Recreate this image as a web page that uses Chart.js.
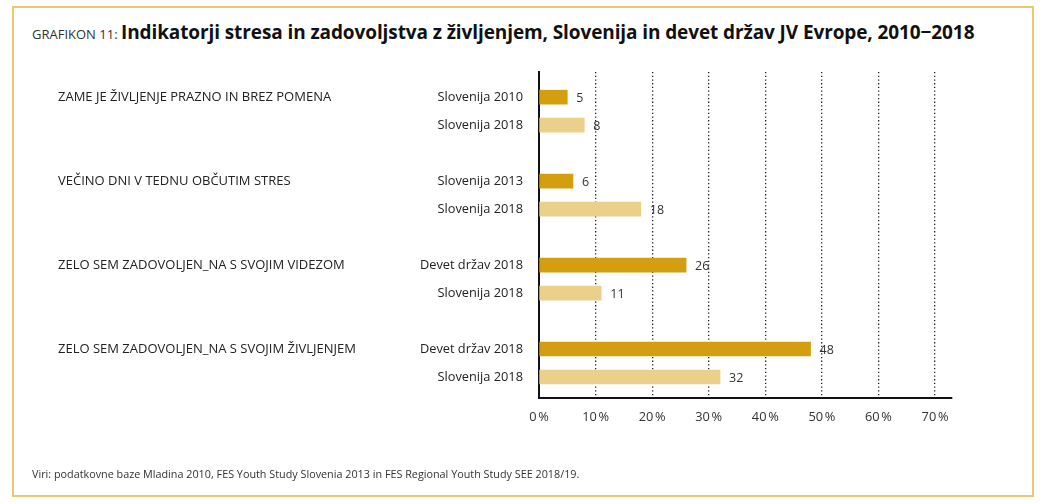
<!DOCTYPE html>
<html>
<head>
<meta charset="utf-8">
<script src="https://cdn.jsdelivr.net/npm/chart.js@4"></script>
<style>
  html, body { margin: 0; padding: 0; background: #fff; }
  body { width: 1043px; height: 504px; position: relative; overflow: hidden; font-family: "Open Sans", sans-serif; }
  .frame { position: absolute; left: 12px; top: 6px; width: 1022px; height: 491px; border: 2px solid #e8c96f; box-sizing: border-box; }
  .title { position: absolute; left: 32px; top: 19px; white-space: nowrap; color: #111; }
  .title .pre { font-size: 13px; color: #333; }
  .title .main { font-weight: 700; font-size: 19px; letter-spacing: -0.1px; }
  .source { position: absolute; left: 32px; top: 466px; font-size: 10.8px; color: #333; white-space: nowrap; }
  #chartWrap { position: absolute; left: 0; top: 0; width: 1043px; height: 504px; }
</style>
</head>
<body>
<div class="frame"></div>
<div class="title"><span class="pre">GRAFIKON 11: </span><span class="main">Indikatorji stresa in zadovoljstva z življenjem, Slovenija in devet držav JV Evrope, 2010−2018</span></div>
<div id="chartWrap"><canvas id="chart"></canvas></div>
<div class="source">Viri: podatkovne baze Mladina 2010, FES Youth Study Slovenia 2013 in FES Regional Youth Study SEE 2018/19.</div>
<script>
// podatki
const groups = [
  'ZAME JE ŽIVLJENJE PRAZNO IN BREZ POMENA',
  'VEČINO DNI V TEDNU OBČUTIM STRES',
  'ZELO SEM ZADOVOLJEN_NA S SVOJIM VIDEZOM',
  'ZELO SEM ZADOVOLJEN_NA S SVOJIM ŽIVLJENJEM'
];
const firstLabels = ['Slovenija 2010', 'Slovenija 2013', 'Devet držav 2018', 'Devet držav 2018'];
const firstValues = [5, 6, 26, 48];
const secondLabels = ['Slovenija 2018', 'Slovenija 2018', 'Slovenija 2018', 'Slovenija 2018'];
const secondValues = [8, 18, 11, 32];
const xTicks = [0, 10, 20, 30, 40, 50, 60, 70];

// each group takes three rows: first bar, second bar, empty row
const slotLabels = [];
const slotGroups = [];
const slotTicks = [];
groups.forEach((g, i) => {
  slotLabels[i * 3] = firstLabels[i];
  slotLabels[i * 3 + 1] = secondLabels[i];
  slotGroups[i * 3] = g;
  slotTicks.push(i * 3, i * 3 + 1);
});
const firstData = firstValues.map((v, i) => ({ x: v, y: i * 3 }));
const secondData = secondValues.map((v, i) => ({ x: v, y: i * 3 + 1 }));

const yMin = -0.9, yMax = 10.75;

const valueLabels = {
  id: 'valueLabels',
  afterDatasetsDraw(chart) {
    const ctx = chart.ctx;
    ctx.save();
    ctx.font = '12.5px "Open Sans", sans-serif';
    ctx.fillStyle = '#333';
    ctx.textBaseline = 'middle';
    chart.data.datasets.forEach((ds, di) => {
      chart.getDatasetMeta(di).data.forEach((bar, i) => {
        ctx.fillText(ds.data[i].x, bar.x + 9, bar.y + 1);
      });
    });
    ctx.restore();
  }
};

const labelFont = { family: 'Open Sans', size: 12.8 };

new Chart(document.getElementById('chart'), {
  type: 'bar',
  data: {
    datasets: [
      { data: firstData, backgroundColor: '#d39e10', barThickness: 14, grouped: false },
      { data: secondData, backgroundColor: '#ead08a', barThickness: 14, grouped: false }
    ]
  },
  options: {
    indexAxis: 'y',
    responsive: true,
    maintainAspectRatio: false,
    animation: false,
    layout: { padding: { left: 58, right: 91, top: 72, bottom: 76 } },
    plugins: { legend: { display: false }, tooltip: { enabled: false } },
    scales: {
      x: {
        type: 'linear',
        min: 0,
        max: 73,
        afterBuildTicks: s => { s.ticks = xTicks.map(v => ({ value: v })); },
        afterFit: s => { s.height = 30; },
        grid: { color: '#222', lineWidth: 1.3, drawTicks: false },
        border: { display: true, color: '#111', width: 2, dash: [1.3, 2.4] },
        ticks: {
          padding: 12,
          color: '#333',
          font: labelFont,
          callback: v => v + '\u202F%'
        }
      },
      y: {
        type: 'linear',
        reverse: true,
        offset: false,
        min: yMin,
        max: yMax,
        weight: 0,
        afterBuildTicks: s => { s.ticks = slotTicks.map(v => ({ value: v })); },
        afterFit: s => { s.width = 159; },
        grid: { display: false, drawTicks: false },
        border: { display: true, color: '#111', width: 2 },
        ticks: {
          padding: 16,
          color: '#222',
          font: labelFont,
          callback: v => slotLabels[v] || ''
        }
      },
      yg: {
        type: 'linear',
        position: 'left',
        reverse: true,
        offset: false,
        min: yMin,
        max: yMax,
        weight: 1,
        afterBuildTicks: s => { s.ticks = [0, 3, 6, 9].map(v => ({ value: v })); },
        afterFit: s => { s.width = 322; },
        grid: { display: false, drawTicks: false },
        border: { display: false },
        ticks: {
          crossAlign: 'far',
          padding: 0,
          color: '#222',
          font: { family: 'Open Sans', size: 13 },
          callback: v => slotGroups[v] || ''
        }
      }
    }
  },
  plugins: [valueLabels]
});
</script>
</body>
</html>
